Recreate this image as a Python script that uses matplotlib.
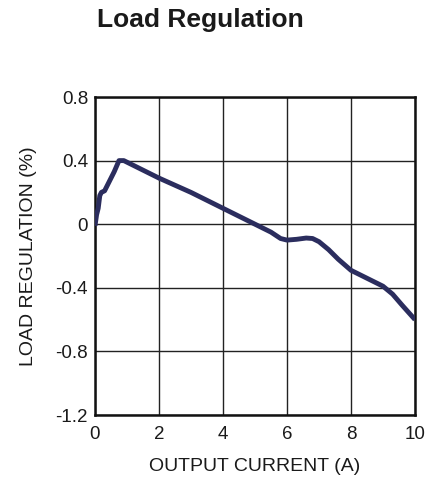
import numpy as np
import matplotlib.pyplot as plt

plt.rcParams['font.family'] = ['Liberation Sans', 'DejaVu Sans']

# load regulation curve
current = [0.0, 0.05, 0.1, 0.15, 0.2, 0.3, 0.45, 0.6, 0.75, 0.9, 1.0, 1.3, 1.6, 2.0, 2.5, 3.0,
           3.5, 4.0, 4.5, 5.0, 5.5, 5.8, 6.0, 6.3, 6.6, 6.8, 7.0, 7.3, 7.6, 8.0, 8.5, 9.0, 9.3,
           9.6, 10.0]
regulation = [-0.01, 0.06, 0.1, 0.18, 0.2, 0.21, 0.27, 0.33, 0.4, 0.4, 0.39, 0.36, 0.33, 0.29,
              0.245, 0.2, 0.15, 0.1, 0.05, 0.0, -0.05, -0.09, -0.1, -0.095, -0.087, -0.09,
              -0.11, -0.16, -0.22, -0.29, -0.34, -0.39, -0.44, -0.51, -0.6]

xticks = [0, 2, 4, 6, 8, 10]
yticks = [0.8, 0.4, 0, -0.4, -0.8, -1.2]
ytick_labels = ['0.8', '0.4', '0', '-0.4', '-0.8', '-1.2']

fig = plt.figure(figsize=(4.35, 4.8), dpi=100)
ax = fig.add_axes([95 / 435, 65 / 480, 320 / 435, 318 / 480])

ax.plot(current, regulation, color='#2b2d5e', lw=3.5, solid_capstyle='butt',
        solid_joinstyle='round', zorder=3)

ax.set_xlim(0, 10)
ax.set_ylim(-1.2, 0.8)
ax.set_xticks(xticks)
ax.set_yticks(yticks)
ax.set_yticklabels(ytick_labels)
ax.tick_params(length=0, labelsize=13.5, colors='#1a1a1a')
ax.tick_params(axis='x', pad=8)
ax.tick_params(axis='y', pad=5)
ax.grid(True, color='#222222', lw=1.0)
for sp in ax.spines.values():
    sp.set_linewidth(1.8)
    sp.set_color('#111111')

ax.set_xlabel('OUTPUT CURRENT (A)', fontsize=14, labelpad=11, color='#1a1a1a')
ax.set_ylabel('LOAD REGULATION (%)', fontsize=14, labelpad=13, color='#1a1a1a')

fig.text(200 / 435, 1 - 27 / 480, 'Load Regulation', fontsize=19, fontweight='bold',
         ha='center', va='baseline', color='#1a1a1a')

fig.savefig('out.png', dpi=100)
